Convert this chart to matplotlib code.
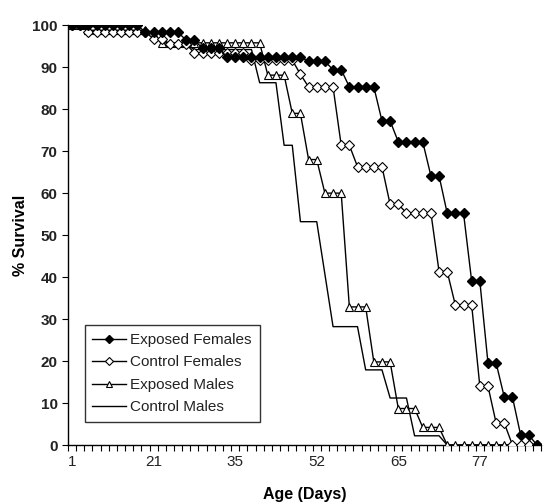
import matplotlib
matplotlib.use("Agg")
import matplotlib.pyplot as plt
import numpy as np

plt.rcParams['font.family'] = ['Liberation Sans', 'DejaVu Sans']

# % survival at each observation (category axis, as in the original sheet)
exposed_females = [100, 100, 100, 100, 100, 100, 100, 100, 100,
                   98.3, 98.3, 98.3, 98.3, 98.3,
                   96.4, 96.4,
                   94.5, 94.5, 94.5,
                   92.4, 92.4, 92.4, 92.4, 92.4, 92.4, 92.4, 92.4, 92.4, 92.4,
                   91.4, 91.4, 91.4,
                   89.4, 89.4,
                   85.3, 85.3, 85.3, 85.3,
                   77.2, 77.2,
                   72.2, 72.2, 72.2, 72.2,
                   64.1, 64.1,
                   55.2, 55.2, 55.2,
                   39.0, 39.0,
                   19.5, 19.5,
                   11.4, 11.4,
                   2.4, 2.4,
                   0]
control_females = [100, 100,
                   98.4, 98.4, 98.4, 98.4, 98.4, 98.4, 98.4, 98.4,
                   96.7, 96.7,
                   95.6, 95.6, 95.6,
                   93.3, 93.3, 93.3, 93.3, 93.3, 93.3, 93.3,
                   91.7, 91.7, 91.7, 91.7, 91.7, 91.7,
                   88.3,
                   85.3, 85.3, 85.3, 85.3,
                   71.4, 71.4,
                   66.3, 66.3, 66.3, 66.3,
                   57.3, 57.3,
                   55.3, 55.3, 55.3, 55.3,
                   41.3, 41.3,
                   33.3, 33.3, 33.3,
                   14.0, 14.0,
                   5.2, 5.2,
                   0, 0, 0, 0]
exposed_males = [100, 100,
                 98.8, 98.8, 98.8, 98.8, 98.8, 98.8, 98.8, 98.8,
                 97.6,
                 95.8, 95.8, 95.8, 95.8, 95.8, 95.8, 95.8, 95.8, 95.8, 95.8, 95.8, 95.8, 95.8,
                 88.1, 88.1, 88.1,
                 79.0, 79.0,
                 68.0, 68.0,
                 60.0, 60.0, 60.0,
                 32.9, 32.9, 32.9,
                 19.8, 19.8, 19.8,
                 8.7, 8.7, 8.7,
                 4.2, 4.2, 4.2,
                 0, 0, 0, 0, 0, 0, 0, 0, 0, 0, 0, 0]
control_males = [100, 100,
                 98.4, 98.4, 98.4, 98.4, 98.4, 98.4, 98.4, 98.4, 98.4,
                 95.4, 95.4, 95.4, 95.4,
                 94.2, 94.2, 94.2, 94.2, 94.2, 94.2, 94.2, 94.2,
                 86.3, 86.3, 86.3,
                 71.4, 71.4,
                 53.2, 53.2, 53.2,
                 40.7,
                 28.2, 28.2, 28.2, 28.2,
                 17.9, 17.9, 17.9,
                 11.2, 11.2, 11.2,
                 2.2, 2.2, 2.2, 2.2,
                 0, 0, 0, 0, 0, 0, 0, 0, 0, 0, 0, 0]

day_labels = ['1', '21', '35', '52', '65', '77']
label_every = 10

x = np.arange(len(exposed_females))

fig = plt.figure(figsize=(5.44, 5.04), dpi=100)
ax = fig.add_axes([0.125, 0.117, 0.8695, 0.833])

ax.plot(x, control_males, color='black', lw=1.0, label='Control Males', zorder=2)
ax.plot(x, exposed_males, color='black', lw=1.0, marker='^', ms=6,
        mfc='white', mec='black', mew=0.8, label='Exposed Males', zorder=3)
ax.plot(x, control_females, color='black', lw=1.0, marker='D', ms=5,
        mfc='white', mec='black', mew=0.8, label='Control Females', zorder=4)
ax.plot(x, exposed_females, color='black', lw=1.0, marker='D', ms=5,
        mfc='black', mec='black', label='Exposed Females', zorder=5)

ax.set_xlim(-0.5, len(x) - 0.5)
ax.set_ylim(0, 100)
ax.set_yticks(np.arange(0, 101, 10))
ax.set_xticks(np.arange(-0.5, len(x), 1))
ax.set_xticklabels([])
ax.set_xticks(np.arange(0, len(x), label_every)[:len(day_labels)], minor=True)
ax.set_xticklabels(day_labels, minor=True)
ax.tick_params(axis='x', which='major', length=4, width=0.8, direction='out')
ax.tick_params(axis='x', which='minor', length=0, labelsize=11, pad=7,
               labelcolor='#222222')
ax.tick_params(axis='y', length=4, width=0.8, labelsize=11, labelcolor='#222222')
for lab in ax.get_yticklabels():
    lab.set_fontweight('bold')

for s in ['top', 'right']:
    ax.spines[s].set_visible(False)
for s in ['left', 'bottom']:
    ax.spines[s].set_linewidth(1.0)

ax.set_ylabel('% Survival', fontsize=11.5, fontweight='bold', labelpad=3)
ax.set_xlabel('Age (Days)', fontsize=11.5, fontweight='bold', labelpad=13)

h, l = ax.get_legend_handles_labels()
leg = ax.legend(h[::-1], l[::-1], loc='lower left', bbox_to_anchor=(0.035, 0.055),
                fontsize=11, frameon=True, fancybox=False, edgecolor='black',
                handlelength=2.2, handletextpad=0.3, labelspacing=0.55,
                borderpad=0.5, borderaxespad=0, markerscale=0.8)
leg.get_frame().set_linewidth(1.0)
for t in leg.get_texts():
    t.set_color('#222222')

fig.savefig('out.png', dpi=100)
